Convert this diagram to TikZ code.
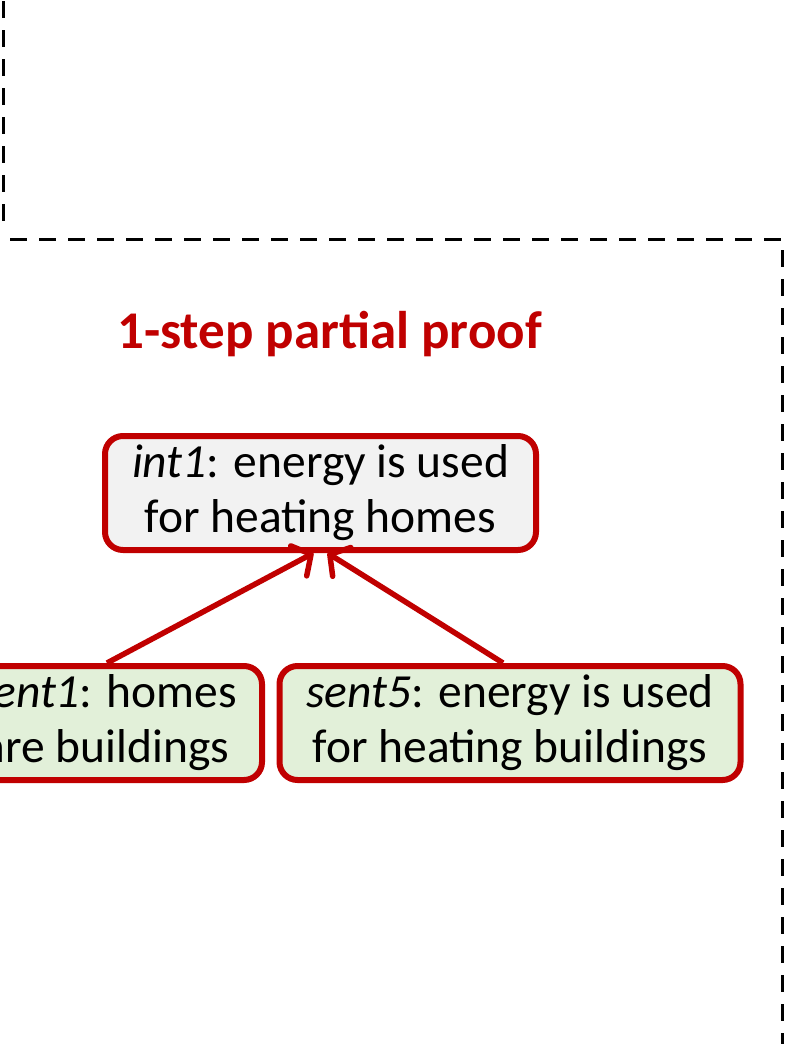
\documentclass[tikz,border=0pt]{standalone}
\usepackage{fontspec}
\setmainfont{Carlito}
\usetikzlibrary{arrows.meta}
\definecolor{proofred}{HTML}{C00000}
\definecolor{intfill}{HTML}{F2F2F2}
\definecolor{sentfill}{HTML}{E2F0D9}
\tikzset{
  frame/.style={line width=3pt, dash pattern=on 17pt off 12pt},
  proofbox/.style={draw=proofred, line width=6pt, rounded corners=18pt,
    align=center, inner sep=0pt, minimum height=114pt,
    font=\fontsize{47.5}{55}\selectfont},
  intbox/.style={proofbox, fill=intfill},
  sentbox/.style={proofbox, fill=sentfill},
  support/.style={draw=proofred, line width=5.5pt,
    -{Straight Barb[length=14pt,width=34pt,line cap=round,line join=round]}},
  heading/.style={text=proofred, inner sep=0pt,
    font=\fontsize{53}{60}\selectfont\bfseries}
}
\begin{document}
\begin{tikzpicture}[x=1pt,y=-1pt]
\useasboundingbox (0,0) rectangle (785,1044);

% frame edges
\coordinate (lt) at (3,1);
\coordinate (lb) at (3,229);
\draw[frame] (lt) -- (lb);
\coordinate (ft) at (10,239);
\coordinate (fc) at (782,239);
\coordinate (fb) at (782,1046);
\draw[frame] (ft) -- (fc) -- (fb);

% heading
\node[heading, anchor=base] (title) at (329.5,348) {1-step partial proof};

% proof nodes
\node[intbox, minimum width=431pt] (int1) at (320.5,493)
  {\textit{int1}: energy is used\\for heating homes};
\node[sentbox, minimum width=312pt] (sent1) at (106,723)
  {\textit{sent1}: homes\\are buildings};
\node[sentbox, minimum width=461pt] (sent5) at (510,723)
  {\textit{sent5}: energy is used\\for heating buildings};

% supports
\draw[support] ([xshift=1pt]sent1.north) -- ([xshift=-7pt]int1.south);
\draw[support] ([xshift=-7pt]sent5.north) -- ([xshift=7pt]int1.south);
\end{tikzpicture}
\end{document}
